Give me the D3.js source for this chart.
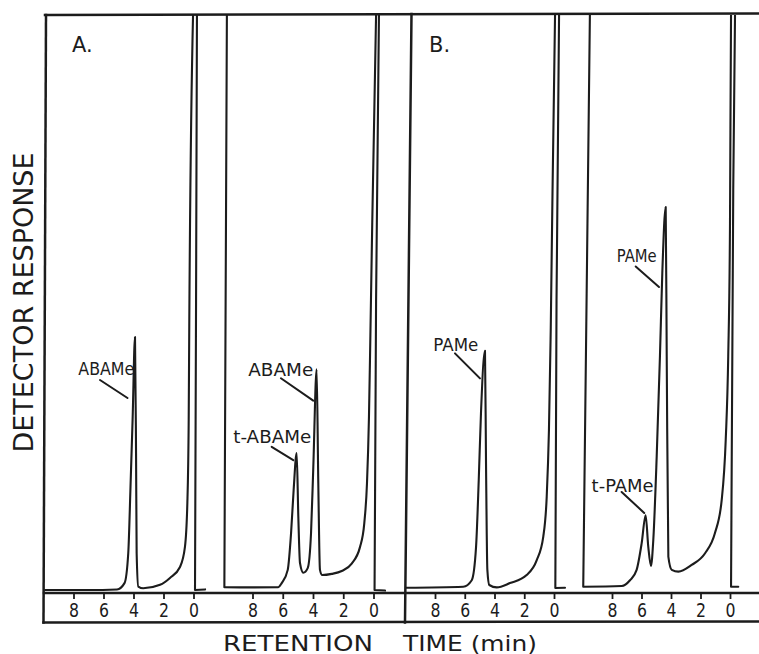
<!DOCTYPE html>
<html>
<head>
<meta charset="utf-8">
<script src="https://cdn.jsdelivr.net/npm/d3@7"></script>
<style>
  html, body { margin: 0; padding: 0; background: #ffffff; }
  svg { display: block; }
  text { font-family: "DejaVu Sans", sans-serif; fill: #1c1c1c; }
</style>
</head>
<body>
<svg id="chart" width="759" height="654"></svg>
<script>
// Retention-time axis labels (minutes, read right to left)
const tickLabels = [8, 6, 4, 2, 0];

// Chromatogram A, left run: ABAMe standard
const traceA1Time = [9.9, 7.0, 5.1, 4.6, 4.35, 4.2, 4.06, 3.9, 3.83, 3.79, 3.68, 3.35, 2.23, 1.57, 0.9, 0.57, 0.41, 0.32, 0.28, 0.03, -0.1, -0.23, -0.17, -0.1, -0.77];
const traceA1Resp = [0, 0, 0.1, 1.2, 6.4, 17.9, 29.6, 44, 23.8, 6.4, 0.6, 0.3, 0.9, 2.1, 4.0, 7.5, 15.1, 29.6, 47, 100, 108, 100, 50, 0, 0.1];

// Chromatogram A, right run: t-ABAMe + ABAMe
const traceA2Time = [9.69, 9.86, 8.83, 6.31, 6.07, 5.67, 5.45, 5.28, 5.08, 4.97, 4.86, 4.64, 4.35, 4.13, 3.98, 3.76, 3.65, 3.54, 3.39, 2.76, 2.1, 1.44, 0.89, 0.61, 0.43, 0.3, 0.2, -0.17, -0.26, -0.36, -0.17, -0.07, -0.76];
const traceA2Resp = [102, 0.47, 0.45, 0.47, 1.2, 3.5, 9.9, 17.4, 23.8, 12.7, 4.7, 3.0, 3.8, 9.9, 21.4, 38.4, 18.6, 3.5, 2.6, 2.8, 3.3, 4.6, 7.5, 11.6, 18.6, 30.1, 45.2, 100, 108, 100, 50.4, 0, -0.1];

// Chromatogram B, left run: PAMe standard
const traceB1Time = [9.95, 6.1, 5.53, 5.24, 5.06, 4.91, 4.64, 4.57, 4.48, 4.35, 3.85, 2.96, 1.84, 1.16, 0.72, 0.49, 0.34, 0.22, -0.07, -0.2, -0.34, -0.17, -0.09, -0.74];
const traceB1Resp = [0.4, 0.57, 1.7, 7.5, 19.1, 30.7, 41.6, 22, 3.5, 0.87, 0.46, 1.2, 2.6, 5.2, 9.3, 16.2, 27.8, 45.2, 100, 108, 100, 50.4, 0.35, 0.4];

// Chromatogram B, right run: t-PAMe + PAMe
const traceB2Time = [9.49, 9.95, 7.34, 6.78, 6.33, 5.99, 5.72, 5.54, 5.36, 5.2, 4.97, 4.75, 4.59, 4.36, 4.29, 4.18, 3.95, 3.5, 2.6, 1.69, 1.02, 0.56, 0.29, 0.12, 0.0, -0.07, -0.2, -0.34, -0.22, -0.07, -0.56];
const traceB2Resp = [102, 0.57, 0.7, 1.7, 3.5, 8.1, 13, 7.5, 4.2, 8.7, 23.2, 40.6, 55.1, 66.6, 40.6, 5.8, 3.5, 3.2, 4.35, 6.4, 9.9, 15.7, 26.1, 40.6, 63.8, 100, 108, 100, 69.6, 0.57, 0.57];

// Peak annotations
const peakNames = ["ABAMe", "ABAMe", "t-ABAMe", "PAMe", "PAMe", "t-PAMe"];
const peakTrace = [0, 1, 1, 2, 3, 3];
const peakTimes = [3.9, 3.76, 5.08, 4.64, 4.36, 5.72];

const traces = [
  { time: traceA1Time, resp: traceA1Resp },
  { time: traceA2Time, resp: traceA2Resp },
  { time: traceB1Time, resp: traceB1Resp },
  { time: traceB2Time, resp: traceB2Resp }
];

// Pixel placement of the 8 and 0 min marks for each run
const runLayout = [
  { x8: 73.5, x0: 193.5 },
  { x8: 252.5, x0: 373.5 },
  { x8: 435, x0: 554 },
  { x8: 612, x0: 730 }
];

// Label placement relative to each peak apex (px)
const labelLayout = [
  { tx: -56.7, ty: 38,    w: 56, l1: [-35, 43],     l2: [-7.5, 61] },
  { tx: -68.4, ty: 6.7,   w: 65, l1: [-35.7, 9],    l2: [-3.4, 31.4] },
  { tx: -63.4, ty: -9.7,  w: 78, l1: [-25, -6.3],   l2: [-3.4, 7] },
  { tx: -51.7, ty: 0,     w: 45, l1: [-30, 2.6],    l2: [-5, 27.6] },
  { tx: -49,   ty: 55.4,  w: 40, l1: [-30, 59.4],   l2: [-6.7, 80] },
  { tx: -54,   ty: -23.3, w: 62, l1: [-24, -23.3],  l2: [-1.4, -2.3] }
];

const ink = "#1c1c1c";
const svg = d3.select("#chart");

const frameTop = 15, axisTop = 593, axisBottom = 622.5;

const y = d3.scaleLinear().domain([0, 100]).range([590, frameTop]);

svg.append("defs").append("clipPath").attr("id", "plotClip")
  .append("rect").attr("x", 0).attr("y", frameTop).attr("width", 759).attr("height", axisTop - frameTop);

const xScales = runLayout.map(r => d3.scaleLinear().domain([8, 0]).range([r.x8, r.x0]));

const line = d3.line()
  .x(d => d.x)
  .y(d => d.y)
  .curve(d3.curveMonotoneX);

// Split a pen trace into pieces that run one way along x, so each piece
// can be smoothed monotonically; pieces share their turning points.
function monotoneRuns(pts) {
  const runs = [];
  let cur = [pts[0]];
  let dir = 0;
  for (let k = 1; k < pts.length; k++) {
    const d = Math.sign(pts[k].x - pts[k - 1].x) || dir;
    if (dir !== 0 && d !== dir) {
      runs.push({ pts: cur, dir });
      cur = [pts[k - 1]];
    }
    dir = d;
    cur.push(pts[k]);
  }
  runs.push({ pts: cur, dir });
  return runs.map(r => (r.dir < 0 ? r.pts.slice().reverse() : r.pts));
}

const plot = svg.append("g").attr("clip-path", "url(#plotClip)");

traces.forEach((tr, i) => {
  const pts = tr.time.map((t, k) => ({ x: xScales[i](t), y: y(tr.resp[k]) }));
  const d = monotoneRuns(pts).map(r => line(r)).join("");
  plot.append("path")
    .attr("d", d)
    .attr("fill", "none")
    .attr("stroke", ink)
    .attr("stroke-width", 2.1)
    .attr("stroke-linejoin", "round")
    .attr("stroke-linecap", "round");
});

// Frame
const frame = svg.append("g").attr("stroke", ink).attr("stroke-width", 2.5).attr("fill", "none").attr("stroke-linecap", "square");
frame.append("line").attr("x1", 45).attr("y1", frameTop).attr("x2", 759).attr("y2", 13.5);
frame.append("line").attr("x1", 46).attr("y1", frameTop).attr("x2", 43.5).attr("y2", axisBottom);
frame.append("line").attr("x1", 411.5).attr("y1", 14).attr("x2", 405).attr("y2", axisBottom);
frame.append("line").attr("x1", 44).attr("y1", axisTop).attr("x2", 759).attr("y2", axisTop);
frame.append("line").attr("x1", 43.5).attr("y1", axisBottom).attr("x2", 759).attr("y2", axisBottom - 1);

// Retention-time axes
xScales.forEach(sc => {
  const g = svg.append("g")
    .attr("transform", `translate(0,${axisTop})`)
    .call(d3.axisBottom(sc).tickValues(tickLabels).tickSize(6).tickPadding(5).tickFormat(d3.format("d")));
  g.select(".domain").remove();
  g.selectAll(".tick line").attr("stroke", ink).attr("stroke-width", 1.8);
  g.selectAll(".tick text")
    .attr("fill", ink)
    .style("font-family", "'DejaVu Sans', sans-serif")
    .style("font-size", "19px")
    .attr("textLength", 10)
    .attr("lengthAdjust", "spacingAndGlyphs");
});

// Peak labels with leader lines
peakNames.forEach((name, i) => {
  const tr = traces[peakTrace[i]];
  const k = tr.time.indexOf(peakTimes[i]);
  const px = xScales[peakTrace[i]](peakTimes[i]);
  const py = y(tr.resp[k]);
  const L = labelLayout[i];
  svg.append("line")
    .attr("x1", px + L.l1[0]).attr("y1", py + L.l1[1])
    .attr("x2", px + L.l2[0]).attr("y2", py + L.l2[1])
    .attr("stroke", ink).attr("stroke-width", 2).attr("stroke-linecap", "round");
  svg.append("text")
    .attr("x", px + L.tx).attr("y", py + L.ty)
    .attr("textLength", L.w).attr("lengthAdjust", "spacingAndGlyphs")
    .style("font-size", "17px")
    .text(name);
});

// Panel letters
svg.append("text").attr("x", 72).attr("y", 52).style("font-size", "21px").text("A.");
svg.append("text").attr("x", 429).attr("y", 52).style("font-size", "21px").text("B.");

// Axis titles
svg.append("text")
  .attr("transform", "translate(33,302.5) rotate(-90)")
  .attr("text-anchor", "middle")
  .attr("textLength", 300).attr("lengthAdjust", "spacingAndGlyphs")
  .style("font-size", "27px")
  .text("DETECTOR RESPONSE");

svg.append("text").attr("x", 223).attr("y", 650.5)
  .attr("textLength", 150).attr("lengthAdjust", "spacingAndGlyphs")
  .style("font-size", "21.5px").text("RETENTION");
svg.append("text").attr("x", 403).attr("y", 650.5)
  .attr("textLength", 134).attr("lengthAdjust", "spacingAndGlyphs")
  .style("font-size", "21.5px").text("TIME (min)");
</script>
</body>
</html>
